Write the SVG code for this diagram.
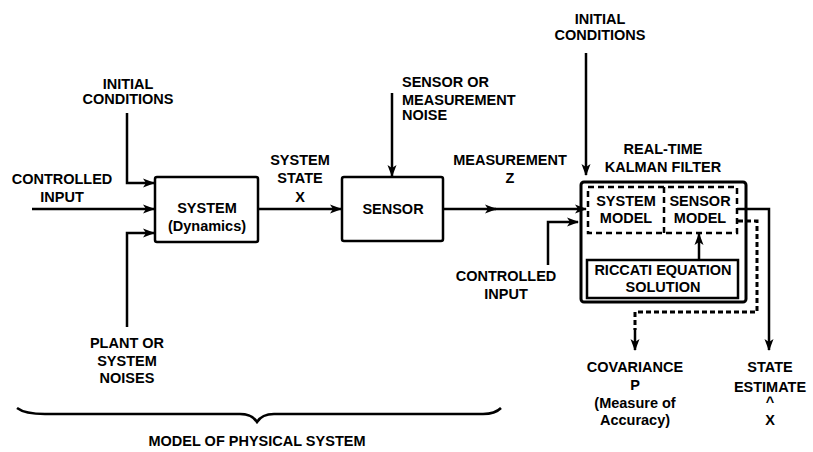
<svg xmlns="http://www.w3.org/2000/svg" width="813" height="452" viewBox="0 0 813 452">
<defs>
<marker id="ah" markerWidth="12" markerHeight="10" refX="11" refY="5" orient="auto" markerUnits="userSpaceOnUse">
<path d="M0,0.5 L12,5 L0,9.5 L3,5 Z" fill="#000"/>
</marker>
</defs>
<style>
text{font-family:"Liberation Sans",Arial,sans-serif;font-weight:bold;font-size:14.5px;fill:#000;text-anchor:middle}
.box{fill:#fff;stroke:#000;stroke-width:2.5}
.ln{fill:none;stroke:#000;stroke-width:2.5}
.frame{fill:none;stroke:#000;stroke-width:3}
.dash{fill:none;stroke:#000;stroke-width:2.5;stroke-dasharray:6 4}
.dot{fill:none;stroke:#000;stroke-width:3;stroke-dasharray:5 3}
.l{text-anchor:start}
</style>
<rect width="813" height="452" fill="#fff"/>

<g id="connectors">
<path class="ln" d="M127,113 V183 H154" marker-end="url(#ah)"/>
<path class="ln" d="M32,209 H154" marker-end="url(#ah)"/>
<path class="ln" d="M127,327 V233 H154" marker-end="url(#ah)"/>
<path class="ln" d="M258,209 H341" marker-end="url(#ah)"/>
<path class="ln" d="M392,93 V176" marker-end="url(#ah)"/>
<path class="ln" d="M443,209 H496" marker-end="url(#ah)"/>
<path class="ln" d="M490,209 H586" marker-end="url(#ah)"/>
<path class="ln" d="M548,265 V222 H578" marker-end="url(#ah)"/>
<path class="ln" d="M586,53 V175" marker-end="url(#ah)"/>
<path class="ln" d="M699,260 V234" marker-end="url(#ah)"/>
<path class="ln" d="M737,209 H769 V350" marker-end="url(#ah)"/>
<path class="dot" d="M738,221 H757 V312 H635 V330"/>
<path class="ln" d="M635,328 V350" marker-end="url(#ah)"/>
<path class="ln" d="M17,408 Q25,414 45,414 H240 Q252,414 257,422 Q262,414 274,414 H483 Q495,414 501,408"/>
</g>

<g id="initial-conditions-1">
<text x="128" y="89">INITIAL</text>
<text x="128" y="104">CONDITIONS</text>
</g>
<g id="controlled-input-1">
<text x="62" y="184">CONTROLLED</text>
<text x="62" y="202">INPUT</text>
</g>
<g id="plant-noises">
<text x="127" y="348">PLANT OR</text>
<text x="127" y="366">SYSTEM</text>
<text x="127" y="383">NOISES</text>
</g>
<g id="system">
<rect class="box" x="155" y="177" width="103" height="65" rx="2"/>
<text x="207" y="213">SYSTEM</text>
<text x="207" y="231">(Dynamics)</text>
</g>
<g id="system-state">
<text x="300" y="165">SYSTEM</text>
<text x="300" y="183">STATE</text>
<text x="300" y="202">X</text>
</g>
<g id="sensor-noise">
<text class="l" x="402" y="87">SENSOR OR</text>
<text class="l" x="402" y="105">MEASUREMENT</text>
<text class="l" x="402" y="120">NOISE</text>
</g>
<g id="sensor">
<rect class="box" x="342" y="177" width="101" height="64" rx="2"/>
<text x="393" y="214">SENSOR</text>
</g>
<g id="measurement">
<text x="510" y="165">MEASUREMENT</text>
<text x="510" y="183">Z</text>
</g>
<g id="controlled-input-2">
<text x="506" y="281">CONTROLLED</text>
<text x="506" y="299">INPUT</text>
</g>
<g id="initial-conditions-2">
<text x="600" y="24">INITIAL</text>
<text x="600" y="40">CONDITIONS</text>
</g>
<g id="kalman-filter">
<text x="663" y="154">REAL-TIME</text>
<text x="663" y="172">KALMAN FILTER</text>
<rect class="frame" x="581" y="182" width="165" height="120" rx="3"/>
<rect class="dash" x="588" y="187" width="149" height="46"/>
<line class="dash" x1="664" y1="187" x2="664" y2="233"/>
</g>
<g id="system-model">
<text x="626" y="206">SYSTEM</text>
<text x="626" y="223">MODEL</text>
</g>
<g id="sensor-model">
<text x="700" y="206">SENSOR</text>
<text x="700" y="223">MODEL</text>
</g>
<g id="riccati">
<rect class="box" x="587" y="260" width="151" height="38"/>
<text x="663" y="275">RICCATI EQUATION</text>
<text x="663" y="292">SOLUTION</text>
</g>
<g id="covariance">
<text x="635" y="372">COVARIANCE</text>
<text x="635" y="390">P</text>
<text x="635" y="408">(Measure of</text>
<text x="635" y="425">Accuracy)</text>
</g>
<g id="state-estimate">
<text x="770" y="372">STATE</text>
<text x="770" y="392">ESTIMATE</text>
<text x="770" y="407">^</text>
<text x="770" y="425">X</text>
</g>
<g id="physical-model-label">
<text x="257" y="446">MODEL OF PHYSICAL SYSTEM</text>
</g>
</svg>
